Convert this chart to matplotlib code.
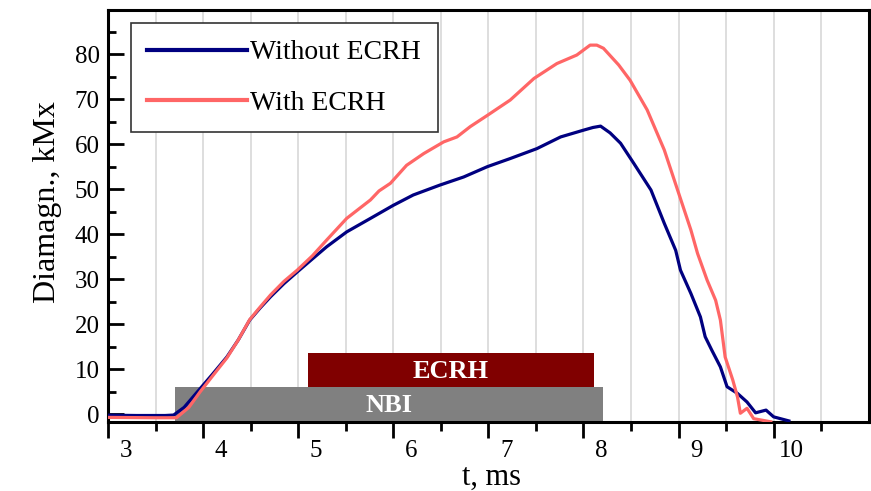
import matplotlib.pyplot as plt
from matplotlib.transforms import ScaledTranslation

# diamagnetic signal
t_without = [2.9, 3.3, 3.6, 3.69, 3.8, 3.97, 4.1, 4.25, 4.37, 4.49, 4.6, 4.71, 4.85,
             4.99, 5.15, 5.3, 5.51, 5.76, 6.0, 6.21, 6.49, 6.74, 6.99, 7.23, 7.51,
             7.76, 8.0, 8.1, 8.18, 8.28, 8.39, 8.53, 8.71, 8.85, 8.97, 9.02, 9.13,
             9.23, 9.28, 9.35, 9.44, 9.51, 9.62, 9.72, 9.81, 9.92, 10.0, 10.16]
v_without = [-0.2, -0.3, -0.3, -0.2, 1.5, 5.7, 8.9, 12.7, 16.5, 20.9, 23.6, 26.1, 29.0,
             31.6, 34.5, 37.2, 40.5, 43.5, 46.4, 48.7, 50.9, 52.7, 55.0, 56.8, 59.0,
             61.6, 63.1, 63.7, 64.0, 62.5, 60.2, 55.7, 49.8, 42.4, 36.4, 32.0, 26.8,
             21.6, 17.2, 14.2, 10.5, 6.1, 4.6, 2.7, 0.3, 0.9, -0.6, -1.5]

t_with = [2.9, 3.5, 3.72, 3.85, 3.97, 4.1, 4.25, 4.37, 4.49, 4.6, 4.71, 4.85, 4.99,
          5.15, 5.3, 5.51, 5.76, 5.85, 5.97, 6.14, 6.32, 6.53, 6.67, 6.81, 6.99, 7.23,
          7.48, 7.72, 7.93, 8.07, 8.14, 8.21, 8.37, 8.49, 8.67, 8.85, 8.99, 9.13, 9.2,
          9.3, 9.39, 9.44, 9.49, 9.57, 9.62, 9.65, 9.72, 9.79, 9.97]
v_with = [-0.7, -0.8, -0.8, 1.5, 5.0, 8.5, 12.5, 16.5, 21.0, 23.8, 26.5, 29.5, 32.0,
          35.2, 38.7, 43.5, 47.6, 49.6, 51.3, 55.3, 57.9, 60.5, 61.6, 63.9, 66.4, 69.8,
          74.6, 77.9, 79.8, 82.0, 82.0, 81.3, 77.6, 74.2, 67.6, 58.7, 49.8, 40.9, 35.7,
          29.8, 25.3, 20.9, 12.7, 7.6, 3.8, 0.2, 1.3, -1.0, -1.7]

# heating pulses
pulse_names = ["NBI", "ECRH"]
pulse_start = [3.70, 5.10]
pulse_end = [8.21, 8.11]
pulse_low = [-1.8, 6.05]
pulse_high = [6.05, 13.7]
pulse_colors = ["#808080", "#800000"]

serif = "Liberation Serif"

fig = plt.figure(figsize=(8.71, 4.91), dpi=100)
ax = fig.add_axes([0.124, 0.140, 0.8734, 0.8396])

for i in range(len(pulse_names)):
    w = pulse_end[i] - pulse_start[i]
    h = pulse_high[i] - pulse_low[i]
    ax.bar(pulse_start[i], h, width=w, bottom=pulse_low[i], align="edge",
           color=pulse_colors[i], zorder=2)
    ax.text(pulse_start[i] + w / 2, pulse_low[i] + h / 2 - 0.3, pulse_names[i],
            color="white", fontweight="bold", fontsize=19, family=serif,
            ha="center", va="center", zorder=4)

ax.plot(t_without, v_without, color="#000080", lw=2.3, zorder=3, label="Without ECRH")
ax.plot(t_with, v_with, color="#ff6666", lw=2.3, zorder=3, label="With ECRH")

ax.set_xlim(3, 11)
ax.set_ylim(-1.8, 89.8)
ax.set_xticks(range(3, 11))
ax.set_xticks([3.5 + k for k in range(8)], minor=True)
ax.set_yticks(range(0, 90, 10))
ax.set_yticks(range(5, 90, 10), minor=True)

ax.grid(True, axis="x", which="both", color="#d8d8d8", lw=1.2, zorder=0)
ax.set_axisbelow(True)

for s in ax.spines.values():
    s.set_linewidth(2.2)

ax.tick_params(axis="x", which="major", direction="out", length=11.5, width=2, pad=1,
               labelsize=18, top=False)
ax.tick_params(axis="x", which="minor", direction="out", length=6.5, width=2, top=False)
ax.tick_params(axis="y", which="major", direction="in", length=11.5, width=2, pad=6,
               labelsize=18, right=False)
ax.tick_params(axis="y", which="minor", direction="in", length=6, width=2, right=False)

for lab in ax.get_xticklabels() + ax.get_yticklabels():
    lab.set_family(serif)
# the x labels sit a bit right of their ticks in the original
shift = ScaledTranslation(18 / 100, 0, fig.dpi_scale_trans)
for lab in ax.get_xticklabels():
    lab.set_transform(lab.get_transform() + shift)

ax.set_xlabel("t, ms", family=serif, fontsize=22, va="center")
ax.xaxis.set_label_coords(0.504, -0.134)
ax.set_ylabel("Diamagn., kMx", family=serif, fontsize=23, va="center")
ax.yaxis.set_label_coords(-0.080, 0.534)

leg = ax.legend(loc="upper left", bbox_to_anchor=(0.03, 0.968), borderaxespad=0,
                prop={"family": serif, "size": 20}, handlelength=3.6, handletextpad=0.1,
                labelspacing=0.9, borderpad=0.6, fancybox=False, framealpha=1)
leg.get_frame().set_edgecolor("#333333")
leg.get_frame().set_linewidth(1.2)
for ln in leg.get_lines():
    ln.set_linewidth(3)

fig.savefig("out.png", dpi=100)
